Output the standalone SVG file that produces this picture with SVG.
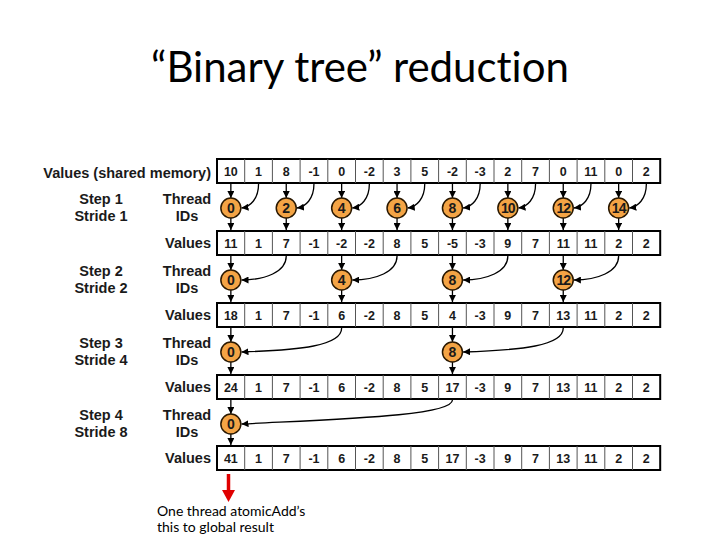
<svg xmlns="http://www.w3.org/2000/svg" width="720" height="540" viewBox="0 0 720 540">
<style>
.title{font-family:Lato,"Open Sans","Liberation Sans",sans-serif;font-size:42px;fill:#000;font-variant-ligatures:none}
.lbl{font-family:"Liberation Sans",Arial,sans-serif;font-weight:bold;font-size:14.5px;fill:#1a1a1a}
.cell{font-family:"Liberation Sans",Arial,sans-serif;font-weight:bold;font-size:12.5px;fill:#1a1a1a;text-anchor:middle}
.tid{font-family:"Liberation Sans",Arial,sans-serif;font-weight:bold;font-size:14px;fill:#1a1a1a;text-anchor:middle}
.box{fill:#fff;stroke:#000;stroke-width:2}
.div{stroke:#555;stroke-width:1}
.circ{fill:#F4A445;stroke:#2a1800;stroke-width:1.5}
.con{fill:none;stroke:#000;stroke-width:1.3}
.note{font-family:Lato,"Open Sans","Liberation Sans",sans-serif;font-size:14px;fill:#000;font-variant-ligatures:none}
</style>
<defs>
<marker id="ah" viewBox="0 0 8 8" refX="8" refY="4" markerWidth="7" markerHeight="7" markerUnits="userSpaceOnUse" orient="auto">
<path d="M0,0 L8,4 L0,8 z" fill="#000"/>
</marker>
<g id="grid">
<rect class="box" x="217" y="0" width="443.2" height="24"/>
<path class="div" d="M244.7,0v24M272.4,0v24M300.1,0v24M327.8,0v24M355.5,0v24M383.2,0v24M410.9,0v24M438.6,0v24M466.3,0v24M494,0v24M521.7,0v24M549.4,0v24M577.1,0v24M604.8,0v24M632.5,0v24"/>
</g>
</defs>
<rect width="720" height="540" fill="#fff"/>
<g id="title"><text class="title" x="360" y="82" text-anchor="middle">“Binary tree” reduction</text></g>

<g id="labels">
<text class="lbl" x="211" y="178" text-anchor="end">Values (shared memory)</text>
<text class="lbl" x="101" y="204" text-anchor="middle">Step 1</text>
<text class="lbl" x="101" y="221" text-anchor="middle">Stride 1</text>
<text class="lbl" x="187" y="204" text-anchor="middle">Thread</text>
<text class="lbl" x="187" y="221" text-anchor="middle">IDs</text>
<text class="lbl" x="211" y="248" text-anchor="end">Values</text>
<text class="lbl" x="101" y="276" text-anchor="middle">Step 2</text>
<text class="lbl" x="101" y="293" text-anchor="middle">Stride 2</text>
<text class="lbl" x="187" y="276" text-anchor="middle">Thread</text>
<text class="lbl" x="187" y="293" text-anchor="middle">IDs</text>
<text class="lbl" x="211" y="320" text-anchor="end">Values</text>
<text class="lbl" x="101" y="348" text-anchor="middle">Step 3</text>
<text class="lbl" x="101" y="365" text-anchor="middle">Stride 4</text>
<text class="lbl" x="187" y="348" text-anchor="middle">Thread</text>
<text class="lbl" x="187" y="365" text-anchor="middle">IDs</text>
<text class="lbl" x="211" y="392" text-anchor="end">Values</text>
<text class="lbl" x="101" y="420" text-anchor="middle">Step 4</text>
<text class="lbl" x="101" y="437" text-anchor="middle">Stride 8</text>
<text class="lbl" x="187" y="420" text-anchor="middle">Thread</text>
<text class="lbl" x="187" y="437" text-anchor="middle">IDs</text>
<text class="lbl" x="211" y="463" text-anchor="end">Values</text>
</g>

<g id="row1">
<use href="#grid" y="159"/>
<g class="cell">
<text x="230.85" y="175.5">10</text><text x="258.55" y="175.5">1</text><text x="286.25" y="175.5">8</text><text x="313.95" y="175.5">-1</text><text x="341.65" y="175.5">0</text><text x="369.35" y="175.5">-2</text><text x="397.05" y="175.5">3</text><text x="424.75" y="175.5">5</text><text x="452.45" y="175.5">-2</text><text x="480.15" y="175.5">-3</text><text x="507.85" y="175.5">2</text><text x="535.55" y="175.5">7</text><text x="563.25" y="175.5">0</text><text x="590.95" y="175.5">11</text><text x="618.65" y="175.5">0</text><text x="646.35" y="175.5">2</text>
</g>
</g>
<g id="row2">
<use href="#grid" y="231"/>
<g class="cell">
<text x="230.85" y="247.5">11</text><text x="258.55" y="247.5">1</text><text x="286.25" y="247.5">7</text><text x="313.95" y="247.5">-1</text><text x="341.65" y="247.5">-2</text><text x="369.35" y="247.5">-2</text><text x="397.05" y="247.5">8</text><text x="424.75" y="247.5">5</text><text x="452.45" y="247.5">-5</text><text x="480.15" y="247.5">-3</text><text x="507.85" y="247.5">9</text><text x="535.55" y="247.5">7</text><text x="563.25" y="247.5">11</text><text x="590.95" y="247.5">11</text><text x="618.65" y="247.5">2</text><text x="646.35" y="247.5">2</text>
</g>
</g>
<g id="row3">
<use href="#grid" y="303"/>
<g class="cell">
<text x="230.85" y="319.5">18</text><text x="258.55" y="319.5">1</text><text x="286.25" y="319.5">7</text><text x="313.95" y="319.5">-1</text><text x="341.65" y="319.5">6</text><text x="369.35" y="319.5">-2</text><text x="397.05" y="319.5">8</text><text x="424.75" y="319.5">5</text><text x="452.45" y="319.5">4</text><text x="480.15" y="319.5">-3</text><text x="507.85" y="319.5">9</text><text x="535.55" y="319.5">7</text><text x="563.25" y="319.5">13</text><text x="590.95" y="319.5">11</text><text x="618.65" y="319.5">2</text><text x="646.35" y="319.5">2</text>
</g>
</g>
<g id="row4">
<use href="#grid" y="375"/>
<g class="cell">
<text x="230.85" y="391.5">24</text><text x="258.55" y="391.5">1</text><text x="286.25" y="391.5">7</text><text x="313.95" y="391.5">-1</text><text x="341.65" y="391.5">6</text><text x="369.35" y="391.5">-2</text><text x="397.05" y="391.5">8</text><text x="424.75" y="391.5">5</text><text x="452.45" y="391.5">17</text><text x="480.15" y="391.5">-3</text><text x="507.85" y="391.5">9</text><text x="535.55" y="391.5">7</text><text x="563.25" y="391.5">13</text><text x="590.95" y="391.5">11</text><text x="618.65" y="391.5">2</text><text x="646.35" y="391.5">2</text>
</g>
</g>
<g id="row5">
<use href="#grid" y="446"/>
<g class="cell">
<text x="230.85" y="462.5">41</text><text x="258.55" y="462.5">1</text><text x="286.25" y="462.5">7</text><text x="313.95" y="462.5">-1</text><text x="341.65" y="462.5">6</text><text x="369.35" y="462.5">-2</text><text x="397.05" y="462.5">8</text><text x="424.75" y="462.5">5</text><text x="452.45" y="462.5">17</text><text x="480.15" y="462.5">-3</text><text x="507.85" y="462.5">9</text><text x="535.55" y="462.5">7</text><text x="563.25" y="462.5">13</text><text x="590.95" y="462.5">11</text><text x="618.65" y="462.5">2</text><text x="646.35" y="462.5">2</text>
</g>
</g>

<g id="connectors">
<!-- step 1 -->
<g class="con" marker-end="url(#ah)">
<path d="M230.85,184V198"/><path d="M286.25,184V198"/><path d="M341.65,184V198"/><path d="M397.05,184V198"/><path d="M452.45,184V198"/><path d="M507.85,184V198"/><path d="M563.25,184V198"/><path d="M618.65,184V198"/>
<path d="M258.55,184C258.55,199 250,207 241.5,208"/><path d="M313.95,184C313.95,199 305.4,207 296.9,208"/><path d="M369.35,184C369.35,199 360.8,207 352.3,208"/><path d="M424.75,184C424.75,199 416.2,207 407.7,208"/><path d="M480.15,184C480.15,199 471.6,207 463.1,208"/><path d="M535.55,184C535.55,199 527,207 518.5,208"/><path d="M590.95,184C590.95,199 582.4,207 573.9,208"/><path d="M646.35,184C646.35,199 637.8,207 629.3,208"/>
<path d="M230.85,218V230"/><path d="M286.25,218V230"/><path d="M341.65,218V230"/><path d="M397.05,218V230"/><path d="M452.45,218V230"/><path d="M507.85,218V230"/><path d="M563.25,218V230"/><path d="M618.65,218V230"/>
</g>
<!-- step 2 -->
<g class="con" marker-end="url(#ah)">
<path d="M230.85,256V270"/><path d="M341.65,256V270"/><path d="M452.45,256V270"/><path d="M563.25,256V270"/>
<path d="M286.25,256C286.25,272 265,280 241.5,280"/><path d="M397.05,256C397.05,272 375.8,280 352.3,280"/><path d="M507.85,256C507.85,272 486.6,280 463.1,280"/><path d="M618.65,256C618.65,272 597.4,280 573.9,280"/>
<path d="M230.85,290V302"/><path d="M341.65,290V302"/><path d="M452.45,290V302"/><path d="M563.25,290V302"/>
</g>
<!-- step 3 -->
<g class="con" marker-end="url(#ah)">
<path d="M230.85,328V342"/><path d="M452.45,328V342"/>
<path d="M341.65,328C341.65,346 300,350 241.5,352"/><path d="M563.25,328C563.25,346 521.6,350 463.1,352"/>
<path d="M230.85,362V374"/><path d="M452.45,362V374"/>
</g>
<!-- step 4 -->
<g class="con" marker-end="url(#ah)">
<path d="M230.85,400V414"/>
<path d="M452.45,400C452.45,416 340,419 241.5,424"/>
<path d="M230.85,434V445"/>
</g>
<!-- red arrow -->
<path d="M228.5,474V491" stroke="#e00000" stroke-width="3.5" fill="none"/>
<path d="M222,490L235,490L228.5,502z" fill="#e00000"/>
</g>

<g id="threads" class="tid">
<g id="t1-0"><circle class="circ" cx="230.85" cy="208" r="10"/><text x="230.85" y="213">0</text></g>
<g id="t1-2"><circle class="circ" cx="286.25" cy="208" r="10"/><text x="286.25" y="213">2</text></g>
<g id="t1-4"><circle class="circ" cx="341.65" cy="208" r="10"/><text x="341.65" y="213">4</text></g>
<g id="t1-6"><circle class="circ" cx="397.05" cy="208" r="10"/><text x="397.05" y="213">6</text></g>
<g id="t1-8"><circle class="circ" cx="452.45" cy="208" r="10"/><text x="452.45" y="213">8</text></g>
<g id="t1-10"><circle class="circ" cx="507.85" cy="208" r="10"/><text x="507.85" y="213" letter-spacing="-1">10</text></g>
<g id="t1-12"><circle class="circ" cx="563.25" cy="208" r="10"/><text x="563.25" y="213" letter-spacing="-1">12</text></g>
<g id="t1-14"><circle class="circ" cx="618.65" cy="208" r="10"/><text x="618.65" y="213" letter-spacing="-1">14</text></g>
<g id="t2-0"><circle class="circ" cx="230.85" cy="280" r="10"/><text x="230.85" y="285">0</text></g>
<g id="t2-4"><circle class="circ" cx="341.65" cy="280" r="10"/><text x="341.65" y="285">4</text></g>
<g id="t2-8"><circle class="circ" cx="452.45" cy="280" r="10"/><text x="452.45" y="285">8</text></g>
<g id="t2-12"><circle class="circ" cx="563.25" cy="280" r="10"/><text x="563.25" y="285" letter-spacing="-1">12</text></g>
<g id="t3-0"><circle class="circ" cx="230.85" cy="352" r="10"/><text x="230.85" y="357">0</text></g>
<g id="t3-8"><circle class="circ" cx="452.45" cy="352" r="10"/><text x="452.45" y="357">8</text></g>
<g id="t4-0"><circle class="circ" cx="230.85" cy="424" r="10"/><text x="230.85" y="429">0</text></g>
</g>

<g id="note">
<text class="note" x="157" y="516">One thread atomicAdd’s</text>
<text class="note" x="157" y="532">this to global result</text>
</g>
</svg>
